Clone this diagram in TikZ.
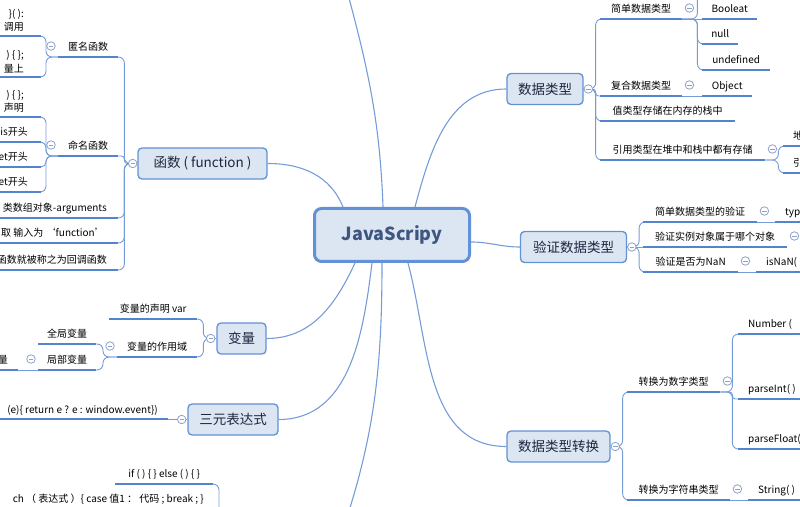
\documentclass[tikz,border=0pt]{standalone}
\usepackage{fontspec}
\setmainfont{Noto Sans CJK SC}
\usepackage{tikz}
\usetikzlibrary{positioning,calc}
\definecolor{boxfill}{RGB}{220,230,242}
\definecolor{boxline}{RGB}{98,145,214}
\definecolor{stemcol}{RGB}{118,156,216}
\definecolor{ulcol}{RGB}{84,132,206}
\definecolor{foldcol}{RGB}{140,162,202}
\definecolor{topictext}{RGB}{28,38,64}
\definecolor{roottext}{RGB}{62,86,128}
\newcommand{\subfont}{\fontsize{10pt}{13.5pt}\selectfont}
\newcommand{\topicfont}{\fontsize{13.5pt}{16pt}\selectfont}
\newcommand{\rootfont}{\fontsize{18pt}{21pt}\selectfont\bfseries}
\tikzset{
  root/.style={draw=boxline,fill=boxfill,line width=3pt,rounded corners=7pt,
               font=\rootfont,text=roottext,minimum width=155pt,minimum height=53pt,
               inner sep=0pt},
  topic/.style={draw=boxline,fill=boxfill,line width=1.3pt,rounded corners=4pt,
                font=\topicfont,text=topictext,inner sep=0pt,minimum height=31pt},
  sub/.style={font=\subfont,inner xsep=0pt,inner ysep=4pt,text height=7.5pt,
              text depth=2pt,anchor=south west},
  subl/.style={sub,anchor=south east,inner xsep=#1},
  subw/.style={sub,inner xsep=#1},
  subm/.style={font=\subfont,inner xsep=#1,inner ysep=4pt,align=right,
               anchor=south east},
  stem/.style={draw=stemcol,line width=1.1pt},
  twig/.style={draw=stemcol,line width=.9pt,rounded corners=#1},
  twig/.default=6pt,
  uline/.style={draw=ulcol,line width=2pt},
  fold/.style={circle,draw=foldcol,fill=white,line width=.8pt,minimum size=8.5pt,
               inner sep=0pt,path picture={\draw[foldcol,line width=.8pt]
               ([xshift=-2.2pt]path picture bounding box.center) --
               ([xshift=2.2pt]path picture bounding box.center);}},
}

\begin{document}
\begin{tikzpicture}[x=1pt,y=1pt]
  \useasboundingbox (0,0) rectangle (800,506);
  % centre and main topics
  \node[root] (js) at (392,271) {JavaScripy};
  \node[topic,minimum width=129pt] (fn) at (202.5,342.5) {函数 ( function )};
  \node[topic,minimum width=76pt] (dt) at (545,417) {数据类型};
  \node[topic,minimum width=106pt] (yz) at (573.5,259) {验证数据类型};
  \node[topic,minimum width=103pt] (zh) at (558.5,59.5) {数据类型转换};
  \node[topic,minimum width=49pt] (bl) at (241.5,167.5) {变量};
  \node[topic,minimum width=90pt] (sy) at (233,86.5) {三元表达式};
  \coordinate (up) at (335,560);
  \coordinate (down) at (332,-55);
  \coordinate (gup) at (226,-55);
  \coordinate (a1up) at (712,540);

  \draw[stem] ([xshift=-49pt]js.north) to[out=112,in=0] (fn.east);
  \draw[stem] ([xshift=-9pt]js.north) to[out=92,in=-75] (up);
  \draw[stem] ([xshift=23pt]js.north) to[out=75,in=180] (dt.west);
  \draw[stem] ([yshift=-7pt]js.east) to[out=0,in=180] (yz.west);
  \draw[stem] ([xshift=16pt]js.south) to[out=-75,in=180] (zh.west);
  \draw[stem] ([xshift=-37pt]js.south) to[out=-115,in=0] (bl.east);
  \draw[stem] ([xshift=-20pt]js.south) to[out=-97,in=0] (sy.east);
  \draw[stem] ([xshift=-10pt]js.south) to[out=-90,in=70] (down);

  % data types
  \node[sub,minimum width=82pt] (a1) at (600,487) {简单数据类型};
  \node[sub,minimum width=82pt] (a2) at (600,410) {复合数据类型};
  \node[sub,minimum width=135pt] (a3) at (600,385) {值类型存储在内存的栈中};
  \node[sub,minimum width=165pt] (a4) at (600,346) {引用类型在堆中和栈中都有存储};
  \node[sub,minimum width=55pt] (a1a) at (702,487) {Booleat};
  \node[sub,minimum width=36pt] (a1b) at (702,462) {null};
  \node[sub,minimum width=68pt] (a1c) at (702,436) {undefined};
  \node[sub,minimum width=50pt] (a2a) at (702,410) {Object};
  \node[subw=10pt] (a4a) at (783,360) {地};
  \node[subw=10pt] (a4b) at (783,333) {引};
  \foreach \c/\r in {a1/6pt,a2/3pt,a3/6pt,a4/6pt}
    \draw[twig=\r] (dt.east) -- ++(12pt,0) |- ([xshift=6pt]\c.south west);
  \foreach \c in {a1b,a1c}
    \draw[twig] (a1.south east) -- ++(15pt,0) |- ([xshift=6pt]\c.south west);
  \draw[twig] (a1.south east) -- ++(15pt,0) |- (a1up);
  \draw[twig] (a1.south east) -- (a1a.south west);
  \draw[twig] (a2.south east) -- (a2a.south west);
  \foreach \c in {a4a,a4b}
    \draw[twig] (a4.south east) -- ++(13pt,0) |- ([xshift=6pt]\c.south west);

  % checking types
  \node[sub,minimum width=114pt] (b1) at (643,284) {简单数据类型的验证};
  \node[sub,minimum width=144pt] (b2) at (643,259) {验证实例对象属于哪个对象};
  \node[sub,minimum width=95pt] (b3) at (643,234) {验证是否为NaN};
  \node[subw=10pt] (b1a) at (775,284) {typ};
  \node[subw=10pt] (b3a) at (756,234) {isNaN(};
  \foreach \c in {b1,b3}
    \draw[twig] (yz.east) -- ++(12pt,0) |- ([xshift=6pt]\c.south west);
  \draw[twig] (yz.east) -- (b2.south west);
  \draw[twig] (b1.south east) -- (b1a.south west);
  \draw[twig] (b3.south east) -- (b3a.south west);

  % conversion
  \node[sub,minimum width=93pt] (c1) at (627,114) {转换为数字类型};
  \node[sub,minimum width=103pt] (c2) at (627,6) {转换为字符串类型};
  \node[subw=10pt] (c1a) at (738,172) {Number (};
  \node[subw=10pt] (c1b) at (738,107) {parseInt( )};
  \node[subw=10pt] (c1c) at (738,57) {parseFloat(};
  \node[subw=10pt] (c2a) at (748,6) {String( )};
  \foreach \c in {c1,c2}
    \draw[twig] (zh.east) -- ++(12pt,0) |- ([xshift=6pt]\c.south west);
  \foreach \c/\r in {c1a/6pt,c1b/3pt,c1c/6pt}
    \draw[twig=\r] (c1.south east) -- ++(12pt,0) |- ([xshift=6pt]\c.south west);
  \draw[twig] (c2.south east) -- (c2a.south west);

  % functions
  \node[sub,minimum width=60pt] (d1) at (58,449) {匿名函数};
  \node[sub,minimum width=60pt] (d2) at (58,350) {命名函数};
  \node[subl=11pt] (d3) at (118,288) {类数组对象-arguments};
  \node[subl=13pt] (d4) at (118,263) {取 输入为 ‘function’};
  \node[subl=11pt] (d5) at (118,236) {函数就被称之为回调函数};
  \node[subm=17pt] (d1a) at (41,470) {\}( ):\\调用};
  \node[subm=17pt] (d1b) at (41,429) {) \{ \};\\量上};
  \node[subm=17pt] (d2a) at (41,389) {) \{ \};\\声明};
  \node[subl=13pt] (d2b) at (41,364) {is开头};
  \node[subl=13pt] (d2c) at (41,339) {et开头};
  \node[subl=13pt] (d2d) at (41,314) {et开头};
  \foreach \c/\r in {d1/6pt,d2/3pt,d3/6pt,d4/6pt,d5/6pt}
    \draw[twig=\r] (fn.west) -- ++(-13pt,0) |- ([xshift=-6pt]\c.south east);
  \foreach \c in {d1a,d1b}
    \draw[twig] (d1.south west) -- ++(-12pt,0) |- ([xshift=-6pt]\c.south east);
  \foreach \c/\r in {d2a/6pt,d2b/6pt,d2c/5pt,d2d/6pt}
    \draw[twig=\r] (d2.south west) -- ++(-12pt,0) |- ([xshift=-6pt]\c.south east);

  % variables
  \node[sub,minimum width=88pt] (e1) at (109,187) {变量的声明 var};
  \node[sub,minimum width=80pt] (e2) at (117,149) {变量的作用域};
  \node[sub,minimum width=58pt] (e2a) at (38,162) {全局变量};
  \node[sub,minimum width=58pt] (e2b) at (38,136) {局部变量};
  \node[subl=10pt] (e2c) at (18,136) {量};
  \foreach \c in {e1,e2}
    \draw[twig] (bl.west) -- ++(-13pt,0) |- ([xshift=-6pt]\c.south east);
  \foreach \c in {e2a,e2b}
    \draw[twig] (e2.south west) -- ++(-14pt,0) |- ([xshift=-6pt]\c.south east);
  \draw[twig] (e2b.south west) -- (e2c.south east);

  % ternary and flow
  \node[subl=10pt] (f1) at (168,86.5) {(e)\{ return e ? e : window.event\})};
  \draw[twig] (sy.west) -- (f1.south east);
  \node[sub,minimum width=98pt] (g1) at (115,22) {if ( ) \{ \} else ( ) \{ \}};
  \node[subl=9pt] (g2) at (213,-3) {ch （ 表达式 ）\{ case 值1 ： 代码 ; break ; \}};
  \foreach \c in {g1,g2}
    \draw[twig] (gup) -- ++(-7pt,0) |- ([xshift=-6pt]\c.south east);

  \foreach \c in {a1,a2,a3,a4,a1a,a1b,a1c,a2a,a4a,a4b,b1,b2,b3,b1a,b3a,
                  c1,c2,c1a,c1b,c1c,c2a,d1,d2,d3,d4,d5,d1a,d1b,d2a,d2b,d2c,d2d,
                  e1,e2,e2a,e2b,e2c,f1,g1,g2}
    \draw[uline] (\c.south west) -- (\c.south east);

  % fold marks
  \node[fold,left=0pt of fn] (ffn) {};
  \node[fold,right=0pt of dt] (fdt) {};
  \node[fold,right=0pt of yz] (fyz) {};
  \node[fold,right=0pt of zh] (fzh) {};
  \node[fold,left=1pt of bl] (fbl) {};
  \node[fold,left=1pt of sy] (fsy) {};
  \foreach \c in {a1,a2,a4,b1,b2,b3,c1,c2}
    \node[fold] (f\c) at ([shift={(7pt,11pt)}]\c.south east) {};
  \foreach \c in {d1,d2,e2,e2b}
    \node[fold] (f\c) at ([shift={(-7pt,11pt)}]\c.south west) {};
\end{tikzpicture}
\end{document}
